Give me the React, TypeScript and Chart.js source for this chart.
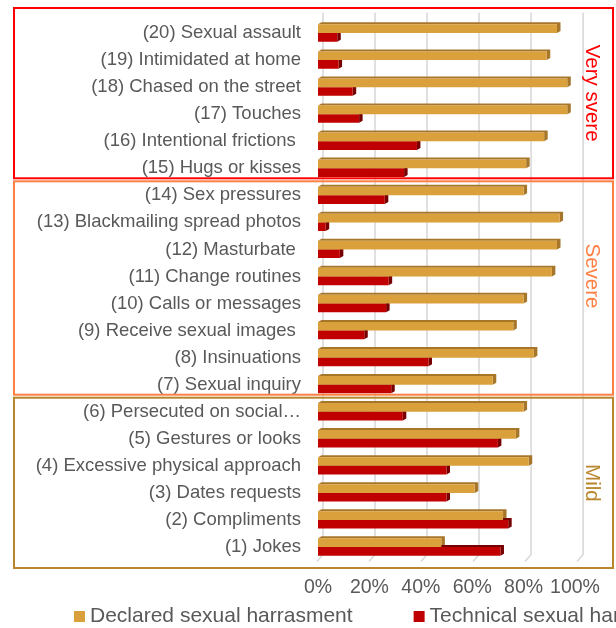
import React, { useEffect, useRef } from "react";
import { Chart, registerables } from "chart.js";

Chart.register(...registerables);

const categories = [
  "(20) Sexual assault",
  "(19) Intimidated at home",
  "(18) Chased on the street",
  "(17) Touches",
  "(16) Intentional frictions ",
  "(15) Hugs or kisses",
  "(14) Sex pressures",
  "(13) Blackmailing spread photos",
  "(12) Masturbate ",
  "(11) Change routines",
  "(10) Calls or messages",
  "(9) Receive sexual images ",
  "(8) Insinuations",
  "(7) Sexual inquiry",
  "(6) Persecuted on social…",
  "(5) Gestures or looks",
  "(4) Excessive physical approach",
  "(3) Dates requests",
  "(2) Compliments",
  "(1) Jokes",
];

const declaredValues = [93, 89, 97, 97, 88, 81, 80, 94, 93, 91, 80, 76, 84, 68, 80, 77, 82, 61, 72, 48];
const technicalValues = [7.5, 8, 13.5, 16, 38.5, 33.5, 26, 3, 8.5, 27.5, 26.5, 18, 43, 28.5, 33, 70, 50, 50, 74, 71];

const seriesLabels = ["Declared sexual harrasment", "Technical sexual harassment"];
const xTickValues = [0, 20, 40, 60, 80, 100];

const groupLabels = ["Very svere", "Severe", "Mild"];
const groupSizes = [6, 8, 6];

const FONT = "'Liberation Sans', Arial, sans-serif";
const TEXT = "#595959";
const SERIES_COLORS = ["#DAA03C", "#C00000"];
const SERIES_DEPTH = ["#A6772B", "#760000"];
const GROUP_COLORS = ["#FF0000", "#FF8045", "#B8862C"];
const GROUP_LABEL_SHIFT = [0, -12, 0];

export default function App() {
  const ref = useRef<HTMLCanvasElement>(null);

  useEffect(() => {
    const canvas = ref.current;
    if (!canvas) return;

    const backPlugin = {
      id: "backAndDepth",
      beforeDatasetsDraw(chart: any) {
        const { ctx, chartArea, scales } = chart;
        const xs = scales.x;
        const x0 = xs.getPixelForValue(0);
        ctx.save();
        ctx.strokeStyle = "#D9D9D9";
        ctx.lineWidth = 1.6;
        xTickValues.forEach((v) => {
          const px = xs.getPixelForValue(v);
          const bx = px + 5 + (px - x0) * 0.012;
          ctx.beginPath();
          ctx.moveTo(bx, chartArea.top - 7);
          ctx.lineTo(bx, chartArea.bottom - 6);
          ctx.lineTo(bx - 6, chartArea.bottom + 1);
          ctx.stroke();
        });
        const dx = 3.5;
        const dy = 2;
        chart.data.datasets.forEach((_ds: any, di: number) => {
          const meta = chart.getDatasetMeta(di);
          ctx.fillStyle = SERIES_DEPTH[di];
          meta.data.forEach((el: any) => {
            const p = el.getProps(["x", "y", "base", "height"], true);
            const top = p.y - p.height / 2;
            const bottom = p.y + p.height / 2;
            ctx.beginPath();
            ctx.moveTo(p.base, top);
            ctx.lineTo(p.base + dx, top - dy);
            ctx.lineTo(p.x + dx, top - dy);
            ctx.lineTo(p.x + dx, bottom - dy);
            ctx.lineTo(p.x, bottom);
            ctx.lineTo(p.x, top);
            ctx.closePath();
            ctx.fill();
          });
        });
        ctx.restore();
      },
    };

    const groupPlugin = {
      id: "groupsAndLegend",
      afterDraw(chart: any) {
        const { ctx, scales, chartArea } = chart;
        const ys = scales.y;
        const step = ys.getPixelForValue(1) - ys.getPixelForValue(0);
        let start = 0;
        ctx.save();
        groupSizes.forEach((n, gi) => {
          const end = start + n - 1;
          let top = ys.getPixelForValue(start) - step / 2;
          let bottom = ys.getPixelForValue(end) + step / 2;
          top -= gi === 0 ? 11.5 : 0.5;
          bottom += gi === groupSizes.length - 1 ? 7.5 : -3.5;
          ctx.strokeStyle = GROUP_COLORS[gi];
          ctx.lineWidth = 2;
          ctx.strokeRect(14, top, 599, bottom - top);
          ctx.save();
          ctx.translate(592, (top + bottom) / 2 + GROUP_LABEL_SHIFT[gi]);
          ctx.rotate(Math.PI / 2);
          ctx.fillStyle = GROUP_COLORS[gi];
          ctx.font = `20.5px ${FONT}`;
          ctx.textAlign = "center";
          ctx.textBaseline = "middle";
          ctx.fillText(groupLabels[gi], 0, 0);
          ctx.restore();
          start += n;
        });

        // legend
        ctx.font = `21px ${FONT}`;
        ctx.textAlign = "left";
        ctx.textBaseline = "middle";
        let x = 74;
        const y = chartArea.bottom + 56;
        chart.data.datasets.forEach((ds: any) => {
          ctx.fillStyle = ds.backgroundColor;
          ctx.fillRect(x, y - 5.5, 11, 11);
          ctx.fillStyle = TEXT;
          ctx.fillText(ds.label, x + 16, y);
          x += 16 + ctx.measureText(ds.label).width + 61;
        });
        ctx.restore();
      },
    };

    const chart = new Chart(canvas, {
      type: "bar",
      data: {
        labels: categories,
        datasets: [
          {
            label: seriesLabels[0],
            data: declaredValues,
            backgroundColor: SERIES_COLORS[0],
            borderWidth: 0,
            xAxisID: "x",
            yAxisID: "y",
          },
          {
            label: seriesLabels[1],
            data: technicalValues,
            backgroundColor: SERIES_COLORS[1],
            borderWidth: 0,
            xAxisID: "x",
            yAxisID: "y",
          },
        ],
      },
      options: {
        indexAxis: "y",
        animation: false,
        responsive: false,
        maintainAspectRatio: false,
        layout: { padding: { top: 19.5, right: 41, bottom: 0, left: 0 } },
        datasets: { bar: { categoryPercentage: 0.64, barPercentage: 1 } },
        plugins: { legend: { display: false }, tooltip: { enabled: false } },
        scales: {
          x: {
            type: "linear",
            min: 0,
            max: 100,
            grid: { display: false, drawTicks: false },
            border: { display: false },
            ticks: {
              autoSkip: false,
              maxRotation: 0,
              padding: 15,
              color: TEXT,
              font: { family: FONT, size: 19.5 },
              callback: (v: any) => `${v}%`,
            },
            afterBuildTicks: (s: any) => {
              s.ticks = xTickValues.map((v) => ({ value: v }));
            },
            afterFit: (s: any) => {
              s.height = 67.5;
              s.paddingLeft = 0;
              s.paddingRight = 0;
            },
          },
          y: {
            type: "category",
            grid: { display: false, drawTicks: false },
            border: { display: false },
            ticks: {
              autoSkip: false,
              padding: 17,
              color: TEXT,
              font: { family: FONT, size: 18.5 },
            },
            afterFit: (s: any) => {
              s.width = 318;
              s.paddingTop = 0;
              s.paddingBottom = 0;
            },
          },
        },
      },
      plugins: [backPlugin, groupPlugin],
    } as any);

    return () => chart.destroy();
  }, []);

  return (
    <div style={{ position: "fixed", left: 0, top: 0, width: 616, height: 628, overflow: "hidden", background: "#fff" }}>
      <canvas ref={ref} width={616} height={628} style={{ display: "block" }} />
    </div>
  );
}
